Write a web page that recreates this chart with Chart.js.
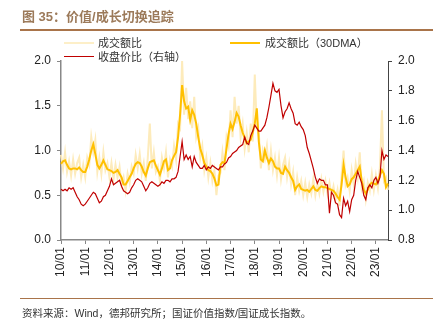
<!DOCTYPE html>
<html>
<head>
<meta charset="utf-8">
<script src="https://cdn.jsdelivr.net/npm/chart.js@4.4.0/dist/chart.umd.min.js"></script>
<style>
  body { margin: 0; background: #fff; font-family: "Liberation Sans", "Noto Sans CJK SC", sans-serif; }
  #wrap { position: relative; width: 445px; height: 328px; overflow: hidden; }
  #title { position: absolute; left: 22px; top: 6px; font: bold 13px "Liberation Sans", "Noto Sans CJK SC", sans-serif; color: #9c7a5a; }
  .rule { position: absolute; left: 20px; width: 413px; height: 1px; background: #a9744a; }
  .leg { position: absolute; font: 11px "Liberation Sans", "Noto Sans CJK SC", sans-serif; color: #333; white-space: nowrap; }
  .sw { position: absolute; height: 0; }
  #source { position: absolute; left: 22px; top: 305px; font: 10.5px "Liberation Sans", "Noto Sans CJK SC", sans-serif; color: #333; }
  canvas { position: absolute; left: 0; top: 0; }
</style>
</head>
<body>
<div id="wrap">
  <canvas id="chart" width="445" height="328"></canvas>
  <div id="title">图 35：价值/成长切换追踪</div>
  <div class="rule" style="top:29px; height:2px;"></div>
  <div class="sw" style="left:64px; top:42px; width:30px; border-top:2px solid #fdefc8;"></div>
  <div class="leg" style="left:98px; top:34px;">成交额比</div>
  <div class="sw" style="left:230px; top:42px; width:30px; border-top:2px solid #ffc000;"></div>
  <div class="leg" style="left:265px; top:34px;">成交额比（30DMA）</div>
  <div class="sw" style="left:64px; top:56px; width:30px; border-top:1.5px solid #c00000;"></div>
  <div class="leg" style="left:98px; top:48px;">收盘价比（右轴）</div>
  <div class="rule" style="top:298px;"></div>
  <div id="source">资料来源：Wind，德邦研究所；国证价值指数/国证成长指数。</div>
</div>
<script>
// monthly points, 2010-01 .. 2023-07
const years = [2010, 2011, 2012, 2013, 2014, 2015, 2016, 2017, 2018, 2019, 2020, 2021, 2022, 2023];
const lastMonth = 7;

// 成交额比 (raw, left axis)
const turnoverRatio = [
  0.95, 0.80, 0.98, 0.76, 0.88, 0.72, 0.90, 0.74, 0.86, 0.92, 0.70, 0.84,
  0.70, 0.92, 0.84, 1.15, 0.98, 1.12, 0.76, 0.92, 0.74, 0.98, 0.78, 0.86,
  0.70, 0.86, 0.68, 0.84, 0.70, 0.82, 0.62, 0.70, 0.55, 0.74, 0.64, 0.82,
  0.74, 0.95, 0.80, 0.96, 0.74, 0.86, 0.66, 0.92, 1.30, 0.80, 0.98, 0.76,
  0.82, 0.66, 0.92, 0.80, 0.98, 0.70, 0.90, 0.82, 1.05, 0.90, 1.30, 1.25,
  2.00, 1.40, 1.70, 1.35, 1.55, 1.25, 1.60, 1.15, 1.25, 0.92, 1.05, 0.78,
  0.92, 0.70, 0.86, 0.66, 0.78, 0.50, 0.72, 0.75, 0.98, 0.78, 1.15, 1.05,
  1.45, 1.15, 1.60, 1.30, 1.50, 1.15, 1.30, 1.02, 1.20, 0.98, 1.30, 1.10,
  1.85, 1.25, 1.20, 0.80, 1.00, 0.90, 1.05, 0.78, 1.00, 0.78, 0.92, 0.72,
  0.92, 0.68, 0.84, 0.92, 0.70, 0.85, 0.62, 0.76, 0.50, 0.70, 0.55, 0.66,
  0.50, 0.64, 0.48, 0.62, 0.52, 0.68, 0.50, 0.64, 0.52, 0.68, 0.54, 0.66,
  0.52, 0.64, 0.50, 0.60, 0.45, 0.56, 0.38, 0.72, 1.00, 0.62, 0.70, 0.55,
  0.78, 0.62, 0.85, 0.70, 0.98, 0.58, 0.66, 0.46, 0.64, 0.55, 0.74, 0.56,
  0.72, 0.58, 0.82, 1.45, 0.66, 0.70, 0.56
];

// 成交额比（30DMA） (left axis)
const turnoverRatio30 = [
  0.85, 0.88, 0.89, 0.84, 0.80, 0.79, 0.80, 0.80, 0.79, 0.81, 0.78, 0.76,
  0.76, 0.82, 0.90, 1.00, 1.07, 0.96, 0.84, 0.80, 0.84, 0.89, 0.84, 0.79,
  0.78, 0.77, 0.75, 0.76, 0.78, 0.74, 0.70, 0.62, 0.62, 0.66, 0.70, 0.74,
  0.80, 0.85, 0.87, 0.86, 0.82, 0.76, 0.72, 0.80, 0.87, 0.88, 0.89, 0.83,
  0.78, 0.73, 0.80, 0.88, 0.90, 0.78, 0.80, 0.89, 0.94, 0.98, 1.15, 1.40,
  1.73, 1.55, 1.47, 1.49, 1.34, 1.45, 1.40, 1.30, 1.15, 1.02, 0.95, 0.86,
  0.82, 0.78, 0.77, 0.74, 0.69, 0.61, 0.62, 0.84, 0.87, 0.86, 1.02, 1.18,
  1.30, 1.24, 1.32, 1.42, 1.38, 1.28, 1.20, 1.14, 1.08, 1.10, 1.12, 1.20,
  1.30, 1.47, 1.10, 0.90, 0.88, 1.00, 0.92, 0.86, 0.91, 0.88, 0.82, 0.80,
  0.80, 0.75, 0.74, 0.82, 0.78, 0.75, 0.70, 0.66, 0.56, 0.60, 0.62, 0.57,
  0.56, 0.55, 0.56, 0.54, 0.57, 0.60, 0.56, 0.55, 0.58, 0.60, 0.59, 0.59,
  0.58, 0.57, 0.56, 0.55, 0.52, 0.48, 0.45, 0.62, 0.84, 0.70, 0.60, 0.62,
  0.68, 0.70, 0.74, 0.78, 0.82, 0.66, 0.56, 0.52, 0.56, 0.62, 0.64, 0.63,
  0.62, 0.66, 0.72, 0.78, 0.74, 0.59, 0.63
];

// 收盘价比 (right axis)
const closeRatio = [
  1.14, 1.13, 1.14, 1.13, 1.15, 1.14, 1.15, 1.12, 1.09, 1.07, 1.04, 1.03,
  1.04, 1.06, 1.08, 1.10, 1.12, 1.11, 1.08, 1.05, 1.06, 1.09, 1.10, 1.13,
  1.16, 1.21, 1.17, 1.18, 1.19, 1.20, 1.16, 1.13, 1.12, 1.11, 1.12, 1.15,
  1.17, 1.20, 1.21, 1.20, 1.19, 1.16, 1.13, 1.15, 1.18, 1.19, 1.18, 1.17,
  1.16, 1.17, 1.19, 1.18, 1.20, 1.20, 1.19, 1.21, 1.21, 1.22, 1.26, 1.36,
  1.46, 1.34, 1.37, 1.34, 1.36, 1.29, 1.36, 1.32, 1.30, 1.28, 1.28, 1.30,
  1.27, 1.29, 1.28, 1.30, 1.29, 1.28, 1.27, 1.29, 1.29, 1.31, 1.32, 1.35,
  1.36, 1.38, 1.39, 1.40, 1.42, 1.43, 1.44, 1.49, 1.45, 1.44, 1.50, 1.53,
  1.57, 1.55, 1.53, 1.53, 1.55, 1.57, 1.62, 1.69, 1.77, 1.85, 1.80, 1.79,
  1.81, 1.70, 1.62, 1.66, 1.68, 1.72, 1.68, 1.65, 1.58, 1.57, 1.59, 1.56,
  1.54, 1.50, 1.42, 1.38, 1.33, 1.28, 1.22, 1.18, 1.21, 1.20, 1.20, 1.17,
  1.17, 0.98, 1.12, 1.10, 1.05, 1.04, 0.97, 0.95, 1.08, 1.03, 1.06, 0.99,
  1.07, 1.10, 1.20, 1.26, 1.22, 1.18, 1.10, 1.07, 1.15, 1.17, 1.15, 1.20,
  1.22, 1.18, 1.22, 1.40, 1.34, 1.37, 1.36
];

const leftTicks = [0, 0.5, 1.0, 1.5, 2.0];
const rightTicks = [0.8, 1.0, 1.2, 1.4, 1.6, 1.8, 2.0];

// category labels 'YYYY-MM'
const labels = [];
years.forEach(y => {
    const n = y === 2023 ? lastMonth : 12;
    for (let m = 1; m <= n; m++) {
        labels.push(y + '-' + String(m).padStart(2, '0'));
    }
});

const axisFont = { family: 'Liberation Sans', size: 12 };

new Chart(document.getElementById('chart').getContext('2d'), {
    type: 'line',
    data: {
        labels: labels,
        datasets: [{
            label: '成交额比',
            data: turnoverRatio,
            yAxisID: 'y',
            borderColor: '#fdebbb',
            borderWidth: 2,
            pointRadius: 0,
            order: 3
        }, {
            label: '成交额比（30DMA）',
            data: turnoverRatio30,
            yAxisID: 'y',
            borderColor: '#ffc000',
            borderWidth: 2,
            pointRadius: 0,
            order: 2
        }, {
            label: '收盘价比（右轴）',
            data: closeRatio,
            yAxisID: 'y2',
            borderColor: '#c00000',
            borderWidth: 1.2,
            pointRadius: 0,
            order: 1
        }]
    },
    options: {
        responsive: false,
        animation: false,
        layout: { padding: { top: 61, bottom: 43, left: 0, right: 0 } },
        plugins: { legend: { display: false }, tooltip: { enabled: false } },
        scales: {
            x: {
                offset: false,
                grid: { drawOnChartArea: false, color: '#888', tickLength: 4 },
                border: { color: '#888', width: 1.5 },
                ticks: {
                    autoSkip: false,
                    maxRotation: 90,
                    minRotation: 90,
                    padding: 3,
                    color: '#222',
                    font: axisFont,
                    callback: function (value) {
                        const lab = labels[value];
                        if (lab.endsWith('-01')) return lab.slice(2, 4) + '/01';
                        return null;
                    }
                },
                afterFit: function (scale) { scale.height = 45; }
            },
            y: {
                position: 'left',
                min: 0,
                max: 2,
                grid: { drawOnChartArea: false, color: '#888', tickLength: 4 },
                border: { color: '#888', width: 1.5 },
                afterBuildTicks: function (scale) { scale.ticks = leftTicks.map(v => ({ value: v })); },
                ticks: {
                    color: '#222',
                    font: axisFont,
                    padding: 6,
                    callback: v => v.toFixed(1)
                },
                afterFit: function (scale) { scale.width = 61; }
            },
            y2: {
                position: 'right',
                min: 0.8,
                max: 2.0,
                grid: { drawOnChartArea: false, color: '#444', tickLength: 4 },
                border: { color: '#444', width: 1 },
                afterBuildTicks: function (scale) { scale.ticks = rightTicks.map(v => ({ value: v })); },
                ticks: {
                    color: '#222',
                    font: axisFont,
                    padding: 6,
                    callback: v => v.toFixed(1)
                },
                afterFit: function (scale) { scale.width = 57; }
            }
        }
    }
});
</script>
</body>
</html>
